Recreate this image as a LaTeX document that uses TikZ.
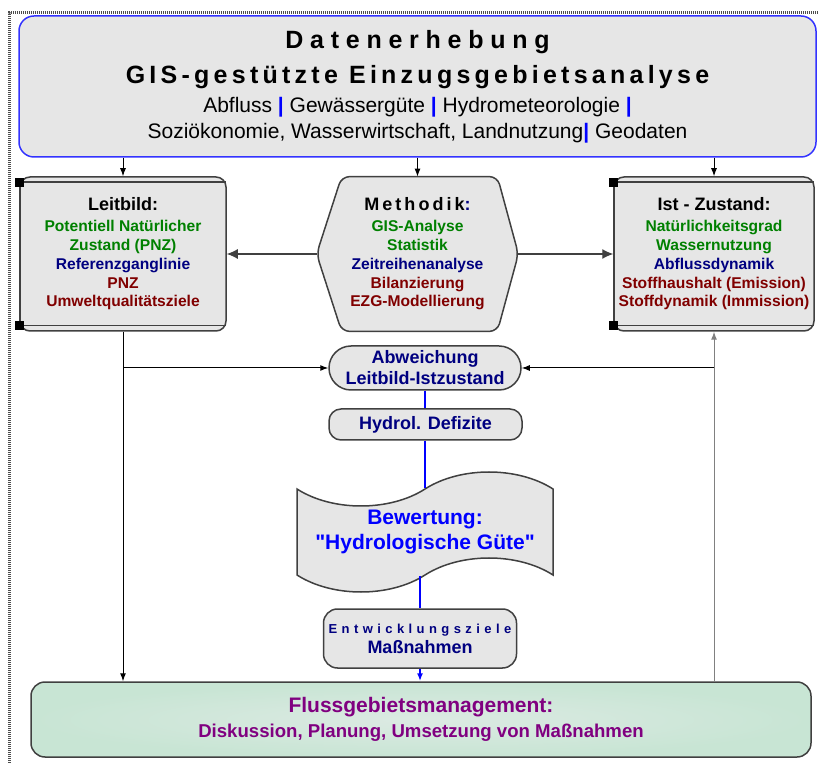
\documentclass[tikz,border=0pt]{standalone}
\usepackage{fontspec}
\setmainfont{Liberation Sans}[Ligatures=TeXOff]
\usetikzlibrary{arrows.meta,shapes.symbols,calc,backgrounds}
\definecolor{gruen}{RGB}{0,128,0}
\definecolor{marine}{RGB}{0,0,128}
\definecolor{weinrot}{RGB}{128,0,0}
\definecolor{lila}{RGB}{128,0,128}
\definecolor{kante}{RGB}{64,64,64}
\definecolor{hellgrau}{RGB}{230,230,230}
\definecolor{mint}{RGB}{200,229,212}
\definecolor{mintinnen}{RGB}{220,234,227}
\definecolor{rahmenblau}{RGB}{51,51,255}
\newcommand{\sperr}[2]{{\addfontfeatures{LetterSpace=#1}#2}}
\newcommand{\trenn}{\textcolor{blue}{\textbf{|}}}
\newcommand{\titel}[2]{{\fontsize{12.5}{17.5}\selectfont\bfseries\sperr{#1}{#2}}}
\newcommand{\kopfzeile}[1]{{\fontsize{9}{9}\selectfont #1}}

\begin{document}
\begin{tikzpicture}[x=0.5pt, y=-0.5pt, >={Latex[length=4pt,width=3pt]},
  every node/.style={align=center, inner sep=0pt},
  kasten/.style={draw=kante, fill=hellgrau, line width=0.75pt},
  inhalt/.style={font=\fontsize{7.8}{9.35}\selectfont\bfseries},
  pfeil/.style={->, line width=0.5pt},
  grosspfeil/.style={-{Latex[length=5.5pt,width=5pt]}, line width=0.6pt, draw=kante},
  fluss/.style={blue, line width=0.8pt}]
\useasboundingbox (0,0) rectangle (818,763);
\draw[gray!60!black, line width=1.5pt, dash pattern=on 0.6pt off 0.4pt] (9,763) -- (9,13) -- (818,13);

\node[kasten, draw=rahmenblau, rounded corners=7.5pt, minimum width=398.5pt, minimum height=70.5pt, font=\fontsize{10.5}{13}\selectfont] (erhebung) at (417.5,86.5)
  {\relax\titel{27}{Datenerhebung}\\[4.5pt] \titel{17}{GIS-gestützte Einzugsgebietsanalyse}\\[1.5pt]
   Abfluss \trenn{} Gewässergüte \trenn{} Hydrometeorologie \trenn\\
   Soziökonomie, Wasserwirtschaft, Landnutzung\trenn{} Geodaten};

\node[kasten, inhalt, rounded corners=5pt, minimum width=103pt, minimum height=77pt] (leit) at (123,254)
  {\relax\kopfzeile{Leitbild:}\\[1.15pt]
   \textcolor{gruen}{Potentiell Natürlicher}\\ \textcolor{gruen}{Zustand (PNZ)}\\
   \textcolor{marine}{Referenzganglinie}\\ \textcolor{weinrot}{PNZ}\\ \textcolor{weinrot}{Umweltqualitätsziele}};
\node[kasten, inhalt, rounded corners=5pt, minimum width=100pt, minimum height=77pt] (ist) at (714,254)
  {\relax\kopfzeile{Ist - Zustand:}\\[1.15pt]
   \textcolor{gruen}{Natürlichkeitsgrad}\\ \textcolor{gruen}{Wassernutzung}\\
   \textcolor{marine}{Abflussdynamik}\\ \textcolor{weinrot}{Stoffhaushalt (Emission)}\\ \textcolor{weinrot}{Stoffdynamik (Immission)}};
\node[inhalt, minimum width=100.5pt, minimum height=77pt] (meth) at (417.5,254)
  {\relax\kopfzeile{\sperr{17}{Methodik\textcolor{marine}{:}}}\\[1.15pt]
   \textcolor{gruen}{GIS-Analyse}\\ \textcolor{gruen}{Statistik}\\
   \textcolor{marine}{Zeitreihenanalyse}\\ \textcolor{weinrot}{Bilanzierung}\\ \textcolor{weinrot}{EZG-Modellierung}};
\begin{scope}[on background layer]
\draw[kasten, rounded corners=4pt] (meth.west) -- ($(meth.north west)+(25,0)$) -- ($(meth.north east)+(-21,0)$) -- (meth.east)
  -- ($(meth.south east)+(-21,0)$) -- ($(meth.south west)+(25,0)$) -- cycle;
\end{scope}
\foreach \b in {leit,ist} {
  \draw[kante, line width=0.75pt] ([yshift=-3pt]\b.north west) -- ([yshift=-3pt,xshift=-0.4pt]\b.north east);
  \draw[kante, line width=0.75pt] ([yshift=3pt]\b.south west) -- ([yshift=3pt,xshift=-0.4pt]\b.south east);
  \draw[kante, line width=0.75pt] ([yshift=-3pt]\b.north west) -- ([yshift=3pt]\b.south west);
  \fill ([yshift=-3pt]\b.north west) +(-2.25pt,-2.25pt) rectangle +(2.25pt,2.25pt);
  \fill ([yshift=3pt]\b.south west) +(-2.25pt,-2.25pt) rectangle +(2.25pt,2.25pt);
}

\node[kasten, rounded corners=11pt, minimum width=96pt, minimum height=22pt, font=\fontsize{9}{10.5}\selectfont\bfseries, text=marine] (abw) at (425,368)
  {Abweichung\\ Leitbild-Istzustand};
\node[kasten, rounded corners=6pt, minimum width=96.5pt, minimum height=15.5pt, font=\fontsize{9}{10.5}\selectfont\bfseries, text=marine] (hyd) at (425.5,424.5)
  {Hydrol. Defizite};
\node[kasten, tape, tape bend height=17pt, minimum width=128pt, minimum height=60pt, font=\fontsize{10.5}{13}\selectfont\bfseries, text=blue] (bew) at (425,532)
  {Bewertung:\\ "Hydrologische Güte"};
\node[kasten, rounded corners=7pt, minimum width=96.5pt, minimum height=29.5pt, font=\fontsize{9}{10}\selectfont\bfseries, text=marine] (entw) at (420,638.5)
  {\relax{\fontsize{6.5}{6.5}\selectfont\sperr{34}{Entwicklungsziele}}\\ Maßnahmen};
\node[draw=kante, line width=0.75pt, rounded corners=7pt, inner color=mintinnen, outer color=mint, minimum width=390pt, minimum height=37.5pt, text=lila, font=\fontsize{9.3}{12.5}\selectfont\bfseries] (management) at (421,719.5)
  {\relax{\fontsize{10.5}{12.5}\selectfont Flussgebietsmanagement:}\\ Diskussion, Planung, Umsetzung von Maßnahmen};

\draw[pfeil] (erhebung.south -| leit.north) -- (leit.north);
\draw[pfeil] (erhebung.south -| meth.north) -- (meth.north);
\draw[pfeil] (erhebung.south -| ist.north) -- (ist.north);
\draw[grosspfeil] (meth.west) -- (leit.east);
\draw[grosspfeil] (meth.east) -- (ist.west);
\draw[pfeil] (leit.south) -- (leit.south |- management.north);
\coordinate (abzweiglinks) at (leit.south |- abw.west);
\draw[pfeil] (abzweiglinks) -- (abw.west);
\draw[pfeil, draw=gray] (ist.south |- management.north) -- (ist.south);
\coordinate (abzweigrechts) at (ist.south |- abw.east);
\draw[pfeil] (abzweigrechts) -- (abw.east);
\draw[fluss] (abw.south) -- (abw.south |- hyd.north);
\draw[fluss] (abw.south |- hyd.south) -- (abw.south |- bew.north);
\draw[fluss] (entw.north |- bew.south) -- (entw.north);
\draw[fluss, ->] (entw.south) -- (entw.south |- management.north);
\end{tikzpicture}
\end{document}
